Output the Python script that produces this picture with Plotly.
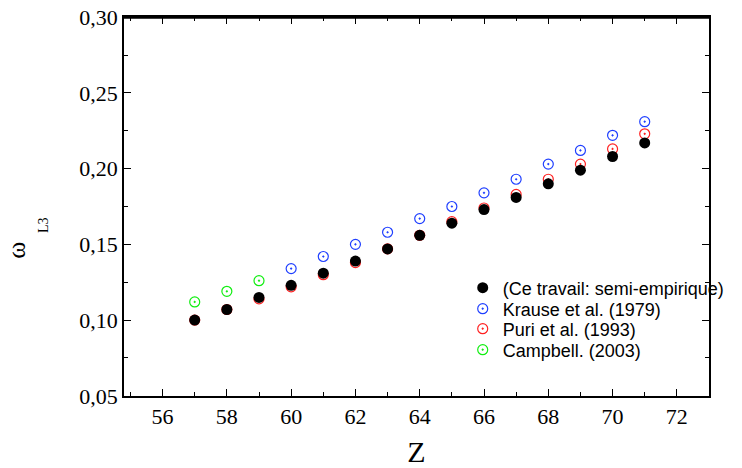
import plotly.graph_objects as go

z_all = [57, 58, 59, 60, 61, 62, 63, 64, 65, 66, 67, 68, 69, 70, 71]
ce_travail = [0.100, 0.107, 0.115, 0.123, 0.131, 0.139, 0.147, 0.156, 0.164, 0.173, 0.181, 0.190, 0.199, 0.208, 0.217]

z_krause = [60, 61, 62, 63, 64, 65, 66, 67, 68, 69, 70, 71]
krause = [0.134, 0.142, 0.150, 0.158, 0.167, 0.175, 0.184, 0.193, 0.203, 0.212, 0.222, 0.231]

z_puri = [57, 58, 59, 60, 61, 62, 63, 64, 65, 66, 67, 68, 69, 70, 71]
puri = [0.100, 0.107, 0.114, 0.122, 0.130, 0.138, 0.147, 0.156, 0.165, 0.174, 0.183, 0.193, 0.203, 0.213, 0.223]

z_campbell = [57, 58, 59]
campbell = [0.112, 0.119, 0.126]

x_ticks = [56, 58, 60, 62, 64, 66, 68, 70, 72]
y_ticks = [0.05, 0.10, 0.15, 0.20, 0.25, 0.30]

SERIF = "Liberation Serif, Times New Roman, serif"
SANS = "Liberation Sans, Arial, sans-serif"

fig = go.Figure()
fig.add_trace(go.Scatter(x=z_krause, y=krause, mode="markers", name="Krause et al. (1979)", legend="legend2",
                         marker=dict(symbol="circle-open-dot", size=10, color="#1f3fff", line=dict(width=1.2))))
fig.add_trace(go.Scatter(x=z_puri, y=puri, mode="markers", name="Puri et al. (1993)", legend="legend3",
                         marker=dict(symbol="circle-open-dot", size=10, color="#ff2020", line=dict(width=1.2))))
fig.add_trace(go.Scatter(x=z_campbell, y=campbell, mode="markers", name="Campbell. (2003)", legend="legend4",
                         marker=dict(symbol="circle-open-dot", size=10, color="#10ee10", line=dict(width=1.2))))
fig.add_trace(go.Scatter(x=z_all, y=ce_travail, mode="markers", name="(Ce travail: semi-empirique)", legend="legend",
                         marker=dict(symbol="circle", size=11, color="black")))

axis_common = dict(showline=True, linecolor="black", linewidth=1.5, mirror="ticks",
                   ticks="inside", ticklen=7, tickwidth=1, tickcolor="black",
                   showgrid=False, zeroline=False, automargin=False,
                   tickfont=dict(family=SERIF, size=22, color="black"))

legend_common = dict(x=0.579, xanchor="left", yanchor="middle", bgcolor="rgba(0,0,0,0)",
                     font=dict(family=SANS, size=18, color="black"), itemwidth=30)

fig.update_layout(
    width=742, height=468,
    margin=dict(l=124, r=29, t=17, b=72),
    paper_bgcolor="white", plot_bgcolor="white",
    separators=", ",
    xaxis=dict(range=[54.8, 73], tickvals=x_ticks,
               minor=dict(dtick=1, ticks="inside", ticklen=4, tickcolor="black"),
               title=dict(text="Z", font=dict(family=SERIF, size=30, color="black"), standoff=15),
               **axis_common),
    yaxis=dict(range=[0.0499, 0.3001], tickvals=y_ticks, tickformat=".2f",
               minor=dict(dtick=0.025, ticks="inside", ticklen=4, tickcolor="black"),
               **axis_common),
    legend=dict(y=0.285, **legend_common),
    legend2=dict(y=0.2296, **legend_common),
    legend3=dict(y=0.1768, **legend_common),
    legend4=dict(y=0.1214, **legend_common),
    showlegend=True,
    shapes=[dict(type="line", xref="paper", yref="paper", x0=0, x1=1, y0=0.998, y1=0.998,
                 line=dict(color="black", width=2), layer="above")],
    annotations=[
        dict(text="ω", xref="paper", yref="paper", x=-0.185, y=0.385, xanchor="center", yanchor="middle",
             showarrow=False, textangle=-90, font=dict(family=SERIF, size=26, color="black")),
        dict(text="L3", xref="paper", yref="paper", x=-0.1375, y=0.45, xanchor="center", yanchor="middle",
             showarrow=False, textangle=-90, font=dict(family=SERIF, size=14, color="black")),
    ],
)

fig.write_html("out.html", config={"displayModeBar": False},
               post_script="document.body.style.margin='0px';")
